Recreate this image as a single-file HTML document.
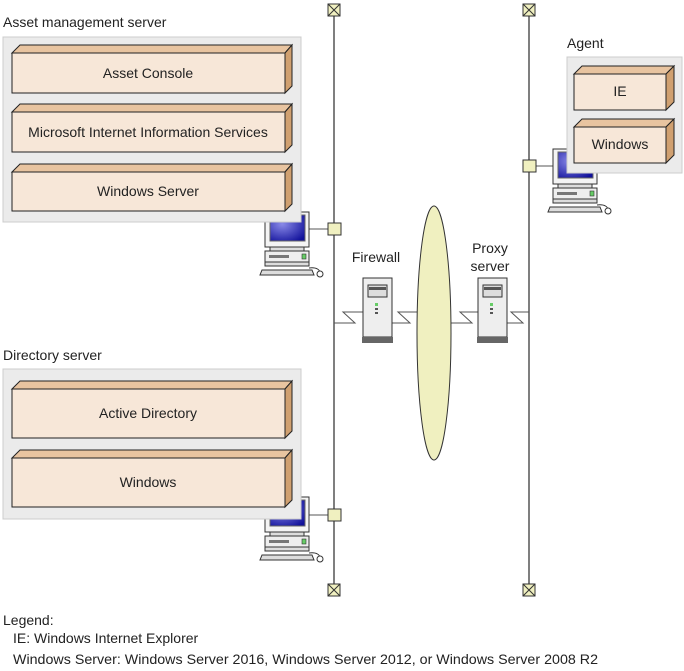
<!DOCTYPE html>
<html><head><meta charset="utf-8"><style>
body{margin:0;background:#fff}
svg{display:block;font-family:"Liberation Sans",sans-serif}
</style></head><body>
<svg width="684" height="671" viewBox="0 0 684 671" xmlns="http://www.w3.org/2000/svg">
<defs>
<radialGradient id="scr" cx="0.35" cy="0.35" r="0.8"><stop offset="0" stop-color="#8a8ae8"/><stop offset="1" stop-color="#10109a"/></radialGradient>
<g id="pc">
  <rect x="0" y="0" width="44" height="35" fill="#f4f4f4" stroke="#333" stroke-width="1"/>
  <rect x="5" y="3" width="35" height="26" fill="url(#scr)" stroke="#666"/>
  <rect x="5" y="35" width="34" height="4" fill="#ddd" stroke="#333"/>
  <rect x="0" y="39" width="44" height="11" fill="#eee" stroke="#333"/>
  <rect x="4" y="43" width="20" height="3" fill="#777"/>
  <rect x="37" y="42" width="4" height="5" fill="#6c6" stroke="#333" stroke-width="0.6"/>
  <rect x="0" y="50" width="44" height="4" fill="#ddd" stroke="#333"/>
  <path d="M-3 58 L47 58 L49 63 L-5 63 Z" fill="#ddd" stroke="#333"/>
  <path d="M44 56 C52 55 55 58 55 61" fill="none" stroke="#333"/>
  <circle cx="55" cy="62" r="3" fill="#fff" stroke="#333"/>
</g>
<g id="srv">
  <rect x="0" y="0" width="29" height="59" fill="#eee" stroke="#333"/>
  <rect x="5" y="7" width="19" height="12" fill="#ddd" stroke="#333"/>
  <rect x="6" y="9" width="17" height="3" fill="#555"/>
  <rect x="12" y="25" width="3" height="3" fill="#6c6"/>
  <rect x="12" y="30" width="3" height="2" fill="#555"/>
  <rect x="12" y="34" width="3" height="2" fill="#555"/>
  <rect x="-1" y="59" width="31" height="6" fill="#666"/>
</g>
<g id="term">
  <rect x="-6" y="-6" width="12" height="12" fill="#f0f0c0" stroke="#333"/>
  <path d="M-6 -6 L6 6 M6 -6 L-6 6" stroke="#333"/>
</g>
</defs>

<line x1="334" y1="8" x2="334" y2="590" stroke="#555" stroke-width="1.5"/>
<line x1="529" y1="8" x2="529" y2="590" stroke="#555" stroke-width="1.5"/>
<use href="#term" x="334" y="10"/><use href="#term" x="334" y="590"/>
<use href="#term" x="529" y="10"/><use href="#term" x="529" y="590"/>

<line x1="305" y1="229" x2="334" y2="229" stroke="#555"/>
<use href="#pc" x="265" y="212"/>
<line x1="305" y1="515" x2="334" y2="515" stroke="#555"/>
<use href="#pc" x="265" y="497"/>
<line x1="529" y1="166" x2="553" y2="166" stroke="#555"/>
<use href="#pc" x="553" y="149"/>
<rect x="328" y="223" width="13" height="12" fill="#f0f0c0" stroke="#333"/>
<rect x="328" y="509" width="13" height="12" fill="#f0f0c0" stroke="#333"/>
<rect x="523" y="160" width="13" height="12" fill="#f0f0c0" stroke="#333"/>

<g fill="none" stroke="#555">
<path d="M334 323 L355 323 L343 312 L363 312"/>
<path d="M392 323 L410 323 L398 312 L418 312"/>
<path d="M451 323 L472 323 L460 312 L478 312"/>
<path d="M507 323 L523 323 L511 312 L529 312"/>
</g>
<ellipse cx="434" cy="333" rx="17" ry="127" fill="#f0f0c0" stroke="#333"/>
<use href="#srv" x="363" y="278"/>
<use href="#srv" x="478" y="278"/>
<text x="376" y="262" font-size="14" text-anchor="middle" fill="#222">Firewall</text>
<text x="490" y="253" font-size="14" text-anchor="middle" fill="#222">Proxy</text>
<text x="490" y="271" font-size="14" text-anchor="middle" fill="#222">server</text>

<text x="3" y="27" font-size="14" fill="#222">Asset management server</text>
<rect x="3" y="37" width="298" height="185" fill="#ebebeb" stroke="#ccc"/>
<g stroke="#222" stroke-width="1">
<path d="M12 53 L20 45 L292 45 L285 53 Z" fill="#e8c4a0"/><path d="M285 53 L292 45 L292 86 L285 93 Z" fill="#d0a070"/><rect x="12" y="53" width="273" height="40" fill="#f7e7d8"/>
<path d="M12 112 L20 104 L292 104 L285 112 Z" fill="#e8c4a0"/><path d="M285 112 L292 104 L292 145 L285 152 Z" fill="#d0a070"/><rect x="12" y="112" width="273" height="40" fill="#f7e7d8"/>
<path d="M12 172 L20 164 L292 164 L285 172 Z" fill="#e8c4a0"/><path d="M285 172 L292 164 L292 204 L285 211 Z" fill="#d0a070"/><rect x="12" y="172" width="273" height="39" fill="#f7e7d8"/>
</g>
<g font-size="14" text-anchor="middle" fill="#222">
<text x="148" y="78">Asset Console</text>
<text x="148" y="137">Microsoft Internet Information Services</text>
<text x="148" y="196">Windows Server</text>
</g>

<text x="3" y="360" font-size="14" fill="#222">Directory server</text>
<rect x="3" y="369" width="298" height="150" fill="#ebebeb" stroke="#ccc"/>
<g stroke="#222" stroke-width="1">
<path d="M12 389 L20 381 L292 381 L285 389 Z" fill="#e8c4a0"/><path d="M285 389 L292 381 L292 431 L285 438 Z" fill="#d0a070"/><rect x="12" y="389" width="273" height="49" fill="#f7e7d8"/>
<path d="M12 458 L20 450 L292 450 L285 458 Z" fill="#e8c4a0"/><path d="M285 458 L292 450 L292 500 L285 507 Z" fill="#d0a070"/><rect x="12" y="458" width="273" height="49" fill="#f7e7d8"/>
</g>
<g font-size="14" text-anchor="middle" fill="#222">
<text x="148" y="418">Active Directory</text>
<text x="148" y="487">Windows</text>
</g>

<text x="567" y="48" font-size="14" fill="#222">Agent</text>
<rect x="567" y="57" width="115" height="116" fill="#ebebeb" stroke="#ccc"/>
<g stroke="#222" stroke-width="1">
<path d="M574 74 L582 66 L674 66 L666 74 Z" fill="#e8c4a0"/><path d="M666 74 L674 66 L674 102 L666 110 Z" fill="#d0a070"/><rect x="574" y="74" width="92" height="36" fill="#f7e7d8"/>
<path d="M574 127 L582 119 L674 119 L666 127 Z" fill="#e8c4a0"/><path d="M666 127 L674 119 L674 155 L666 163 Z" fill="#d0a070"/><rect x="574" y="127" width="92" height="36" fill="#f7e7d8"/>
</g>
<g font-size="14" text-anchor="middle" fill="#222">
<text x="620" y="96">IE</text>
<text x="620" y="149">Windows</text>
</g>

<g font-size="14" fill="#222">
<text x="3" y="625">Legend:</text>
<text x="13" y="643">IE: Windows Internet Explorer</text>
<text x="13" y="664" textLength="585" lengthAdjust="spacingAndGlyphs">Windows Server: Windows Server 2016, Windows Server 2012, or Windows Server 2008 R2</text>
</g>
</svg>
</body></html>
